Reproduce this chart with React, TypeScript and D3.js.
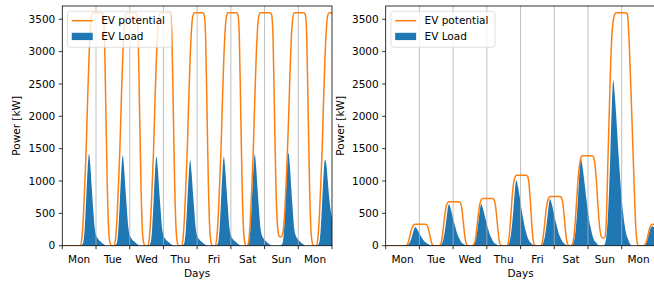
import React from "react";
import * as d3 from "d3";

// ---------- data (hourly samples, hour 0 .. 192 = 8 days) ----------
const dayLabels = ["Mon", "Tue", "Wed", "Thu", "Fri", "Sat", "Sun", "Mon"];
const dayBoundaries = [1, 2, 3, 4, 5, 6, 7];
const yTickValues = [0, 500, 1000, 1500, 2000, 2500, 3000, 3500];
const seriesNames = ["EV potential", "EV Load"];

const leftPotential: number[] = [
  0, 0, 0, 0, 0, 0, 0, 0, 0, 0, 0, 0, 0, 0, 130, 450, 950, 1500, 2250, 2900, 3350, 3560, 3600, 3600,
  3600, 3600, 3600, 3600, 3600, 3570, 3250, 2100, 950, 250, 40, 0, 0, 0, 130, 450, 950, 1500, 2250, 2900, 3350, 3560, 3600, 3600,
  3600, 3600, 3600, 3600, 3600, 3570, 3250, 2100, 950, 250, 40, 0, 0, 0, 130, 450, 950, 1500, 2250, 2900, 3350, 3560, 3600, 3600,
  3600, 3600, 3600, 3600, 3600, 3570, 3250, 2100, 950, 250, 40, 0, 0, 0, 130, 450, 950, 1500, 2250, 2900, 3350, 3560, 3600, 3600,
  3600, 3600, 3600, 3600, 3600, 3570, 3250, 2100, 950, 250, 40, 0, 0, 0, 130, 450, 950, 1500, 2250, 2900, 3350, 3560, 3600, 3600,
  3600, 3600, 3600, 3600, 3600, 3570, 3250, 2100, 950, 250, 40, 0, 0, 130, 450, 950, 1500, 2250, 2900, 3350, 3560, 3600, 3600, 3600,
  3600, 3600, 3600, 3600, 3600, 3570, 3250, 2100, 1000, 380, 170, 135, 140, 200, 400, 800, 1300, 1900, 2600, 3200, 3500, 3600, 3600, 3600,
  3600, 3600, 3600, 3600, 3600, 3570, 3250, 2100, 950, 250, 40, 0, 0, 0, 130, 450, 950, 1500, 2250, 2900, 3350, 3560, 3600, 3600,
  3600,
];

const leftLoad: number[] = [
  0, 0, 0, 0, 0, 0, 0, 0, 0, 0, 0, 0, 0, 0, 15, 55, 285, 710, 1165, 1420, 1220, 880, 570, 285,
  170, 120, 90, 70, 50, 30, 15, 0, 0, 0, 0, 0, 0, 0, 15, 55, 280, 700, 1145, 1395, 1200, 865, 560, 280,
  165, 120, 90, 70, 50, 30, 15, 0, 0, 0, 0, 0, 0, 0, 15, 55, 275, 690, 1130, 1380, 1185, 855, 550, 275,
  165, 115, 90, 70, 50, 30, 15, 0, 0, 0, 0, 0, 0, 0, 15, 55, 265, 660, 1080, 1320, 1135, 820, 530, 265,
  160, 110, 85, 65, 45, 25, 15, 0, 0, 0, 0, 0, 0, 0, 15, 55, 275, 690, 1130, 1375, 1180, 850, 550, 275,
  165, 115, 90, 70, 50, 30, 15, 0, 0, 0, 0, 0, 15, 55, 285, 710, 1160, 1415, 1215, 875, 565, 285, 170, 120,
  90, 70, 50, 30, 15, 0, 0, 0, 0, 0, 0, 0, 15, 55, 285, 720, 1175, 1435, 1235, 890, 575, 285, 170, 120,
  90, 70, 50, 30, 15, 0, 0, 0, 0, 0, 0, 0, 0, 0, 15, 55, 265, 665, 1100, 1330, 1250, 1000, 750, 560,
  430,
];

const rightPotential: number[] = [
  0, 0, 0, 0, 0, 0, 0, 0, 0, 0, 0, 0, 0, 0, 0, 7, 50, 130, 225, 290, 320, 330, 330, 330,
  330, 330, 330, 330, 330, 325, 290, 205, 100, 25, 3, 0, 0, 0, 0, 14, 100, 270, 460, 600, 660, 680, 680, 680,
  680, 680, 680, 680, 680, 665, 600, 420, 205, 55, 7, 0, 0, 0, 5, 30, 110, 290, 495, 640, 710, 730, 730, 730,
  730, 730, 730, 730, 730, 715, 640, 455, 220, 60, 7, 0, 0, 0, 0, 22, 165, 435, 740, 960, 1055, 1090, 1090, 1090,
  1090, 1090, 1090, 1090, 1090, 1070, 960, 675, 330, 85, 10, 0, 0, 0, 0, 15, 115, 305, 515, 670, 735, 760, 760, 760,
  760, 760, 760, 760, 760, 745, 670, 470, 230, 60, 8, 0, 0, 28, 140, 390, 720, 1040, 1250, 1360, 1390, 1390, 1390, 1390,
  1390, 1390, 1390, 1390, 1370, 1250, 1000, 650, 350, 180, 125, 120, 125, 350, 1150, 1950, 2700, 3250, 3480, 3570, 3600, 3600, 3600, 3600,
  3600, 3600, 3600, 3600, 3580, 3300, 2750, 2150, 1500, 850, 300, 50, 0, 0, 0, 0, 5, 30, 90, 190, 280, 320, 330, 330,
  330,
];

const rightLoad: number[] = [
  0, 0, 0, 0, 0, 0, 0, 0, 0, 0, 0, 0, 0, 0, 0, 3, 15, 45, 95, 170, 245, 290, 265, 230,
  190, 150, 115, 80, 60, 40, 25, 15, 10, 5, 0, 0, 0, 0, 0, 6, 30, 95, 210, 370, 545, 640, 590, 510,
  420, 335, 255, 180, 130, 85, 50, 30, 20, 5, 0, 0, 0, 0, 5, 30, 95, 210, 370, 545, 640, 590, 510, 420,
  335, 255, 180, 130, 85, 50, 30, 20, 5, 0, 0, 0, 0, 0, 0, 10, 50, 150, 335, 585, 860, 1010, 930, 810,
  665, 525, 405, 285, 200, 130, 80, 50, 30, 10, 0, 0, 0, 0, 0, 7, 35, 110, 240, 420, 610, 720, 660, 575,
  475, 375, 290, 200, 145, 95, 60, 35, 20, 7, 0, 0, 0, 13, 65, 200, 440, 775, 1140, 1340, 1235, 1070, 885, 695,
  535, 375, 270, 175, 105, 65, 40, 15, 0, 0, 0, 0, 25, 130, 385, 845, 1480, 2170, 2555, 2350, 2045, 1685, 1330, 1020,
  715, 510, 330, 205, 130, 75, 25, 0, 0, 0, 0, 0, 0, 0, 0, 0, 5, 25, 70, 150, 235, 290, 300, 285,
  260,
];

// ---------- layout ----------
const W = 654;
const H = 282;
const PLOT_W = 269.7;
const TOP = 6;
const BOTTOM = 245.7;
const Y_MAX = 3705;
const ORANGE = "#ff7f0e";
const BLUE = "#1f77b4";
const FONT = "'DejaVu Sans', sans-serif";
const FS = 10.5;

type PanelProps = {
  id: string;
  left: number;
  ylabelX: number;
  potential: number[];
  load: number[];
};

function Panel({ id, left, ylabelX, potential, load }: PanelProps) {
  const right = left + PLOT_W;
  const x = d3.scaleLinear().domain([0, potential.length - 1]).range([left, right]);
  const xd = d3.scaleLinear().domain([0, 8]).range([left, right]);
  const y = d3.scaleLinear().domain([0, Y_MAX]).range([BOTTOM, TOP]);

  const area = d3
    .area<number>()
    .x((_, i) => x(i))
    .y0(y(0))
    .y1((d) => y(d))
    .curve(d3.curveMonotoneX);
  const line = d3
    .line<number>()
    .x((_, i) => x(i))
    .y((d) => y(d))
    .curve(d3.curveMonotoneX);

  const lx = left + 5.25;
  const ly = 11.25;

  return (
    <g>
      <defs>
        <clipPath id={`clip-${id}`}>
          <rect x={left} y={TOP} width={PLOT_W} height={BOTTOM - TOP} />
        </clipPath>
      </defs>
      <g clipPath={`url(#clip-${id})`}>
        <path d={area(load) || ""} fill={BLUE} />
        {dayBoundaries.map((d) => (
          <line key={d} x1={xd(d)} x2={xd(d)} y1={TOP} y2={BOTTOM} stroke="#b0b0b0" strokeWidth={0.8} />
        ))}
        <path d={line(potential) || ""} fill="none" stroke={ORANGE} strokeWidth={1.5} />
      </g>
      {/* spines */}
      <rect x={left} y={TOP} width={PLOT_W} height={BOTTOM - TOP} fill="none" stroke="#000" strokeWidth={0.8} />
      {/* y ticks */}
      {yTickValues.map((v) => (
        <g key={v}>
          <line x1={left - 3.5} x2={left} y1={y(v)} y2={y(v)} stroke="#000" strokeWidth={0.8} />
          <text x={left - 7} y={y(v)} dy="0.36em" textAnchor="end" fontSize={FS} fontFamily={FONT} fill="#000">
            {v}
          </text>
        </g>
      ))}
      {/* x ticks */}
      {[0, ...dayBoundaries, 8].map((d) => (
        <line key={d} x1={xd(d)} x2={xd(d)} y1={BOTTOM} y2={BOTTOM + 3.5} stroke="#000" strokeWidth={0.8} />
      ))}
      {dayLabels.map((lab, i) => (
        <text key={i} x={xd(i + 0.5)} y={262.5} textAnchor="middle" fontSize={FS} fontFamily={FONT} fill="#000">
          {lab}
        </text>
      ))}
      <text x={(left + right) / 2} y={276.5} textAnchor="middle" fontSize={FS} fontFamily={FONT} fill="#000">
        Days
      </text>
      <text
        transform={`translate(${ylabelX},${(TOP + BOTTOM) / 2}) rotate(-90)`}
        textAnchor="middle"
        fontSize={FS}
        fontFamily={FONT}
        fill="#000"
      >
        Power [kW]
      </text>
      {/* legend */}
      <rect x={lx} y={ly} width={104} height={36} rx={2.5} fill="#fff" fillOpacity={0.8} stroke="#ccc" strokeOpacity={0.8} strokeWidth={0.8} />
      <line x1={lx + 4.2} x2={lx + 25.2} y1={20.7} y2={20.7} stroke={ORANGE} strokeWidth={1.5} />
      <text x={lx + 33.6} y={24.4} fontSize={FS} fontFamily={FONT} fill="#000">
        {seriesNames[0]}
      </text>
      <rect x={lx + 4.2} y={32.8} width={21} height={7.3} fill={BLUE} />
      <text x={lx + 33.6} y={40} fontSize={FS} fontFamily={FONT} fill="#000">
        {seriesNames[1]}
      </text>
    </g>
  );
}

export default function App() {
  return (
    <svg
      width={W}
      height={H}
      viewBox={`0 0 ${W} ${H}`}
      style={{ position: "absolute", left: 0, top: 0, background: "#fff" }}
    >
      <rect x={0} y={0} width={W} height={H} fill="#fff" />
      <Panel id="left" left={62.3} ylabelX={19.5} potential={leftPotential} load={leftLoad} />
      <Panel id="right" left={385.7} ylabelX={344} potential={rightPotential} load={rightLoad} />
    </svg>
  );
}
